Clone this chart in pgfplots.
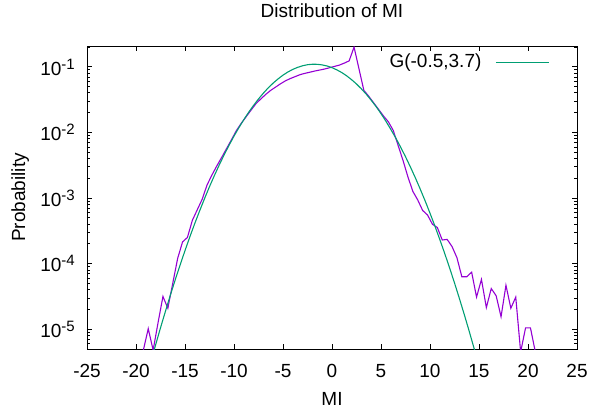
\documentclass[border=0pt]{standalone}
\usepackage{fontspec}
\setmainfont{Liberation Sans}
\usepackage{pgfplots}
\pgfplotsset{compat=1.18}
\definecolor{gpviolet}{HTML}{9400D3}
\definecolor{gpgreen}{HTML}{009E73}
\newcommand{\ex}[1]{10\raisebox{6bp}{\fontsize{15bp}{15bp}\selectfont #1}}
\begin{document}%
\fontsize{19bp}{22bp}\selectfont%
\begin{tikzpicture}
\useasboundingbox (-87bp,-59bp) rectangle (504bp,349bp);
\begin{axis}[
  at={(0bp,0bp)}, anchor=south west,
  scale only axis, width=490bp, height=303bp,
  xmin=-25, xmax=25, ymode=log, ymin=5e-6, ymax=0.207,
  xtick={-25,-20,...,25},
  xticklabels={-25,-20,-15,-10,-5,0,5,10,15,20,25},
  ytick={1e-5,1e-4,1e-3,1e-2,1e-1},
  yticklabels={\ex{-5},\ex{-4},\ex{-3},\ex{-2},\ex{-1}},
  minor ytick={6e-6,7e-6,8e-6,9e-6,
    2e-5,3e-5,4e-5,5e-5,6e-5,7e-5,8e-5,9e-5,
    2e-4,3e-4,4e-4,5e-4,6e-4,7e-4,8e-4,9e-4,
    2e-3,3e-3,4e-3,5e-3,6e-3,7e-3,8e-3,9e-3,
    2e-2,3e-2,4e-2,5e-2,6e-2,7e-2,8e-2,9e-2,2e-1},
  xtick pos=both, ytick pos=both, tick align=inside,
  major tick length=5.5bp, minor tick length=3bp,
  every tick/.style={black, line width=0.8bp},
  axis line style={line width=0.9bp},
  xticklabel style={inner sep=0pt, anchor=base, yshift=-28.7bp},
  yticklabel style={inner sep=0pt, anchor=base east, xshift=-12bp, yshift=-8.3bp},
  title={Distribution of MI},
  title style={inner sep=0pt, at={(axis description cs:0.5,1.0749)}, anchor=base},
  xlabel={MI},
  xlabel style={inner sep=0pt, at={(axis description cs:0.5,-0.1855)}, anchor=base},
  ylabel={Probability},
  ylabel style={inner sep=0pt, at={(axis description cs:-0.1265,0.5)}, anchor=base},
  legend plot pos=right,
  legend cell align=right,
  legend image code/.code={\draw[#1] (0bp,0bp) -- (53.3bp,0bp);},
  legend style={draw=none, fill=none, inner sep=0pt,
    at={(axis description cs:0.9449,0.9462)}, anchor=east,
    nodes={inner sep=0pt},
    /tikz/every odd column/.append style={column sep=14bp}},
]
% measured distribution
\addplot[gpviolet, line width=1.1bp, forget plot] table {
x y
-19.25 4.8e-6
-18.75 1.02e-5
-18.25 4.8e-6
-17.75 1.26e-5
-17.25 3.16e-5
-16.75 2.09e-5
-16.25 5.01e-5
-15.75 1.20e-4
-15.25 2.14e-4
-14.75 2.51e-4
-14.25 4.57e-4
-13.75 6.61e-4
-13.25 9.55e-4
-12.75 1.58e-3
-12.25 2.24e-3
-11.75 3.09e-3
-11.25 4.17e-3
-10.75 5.69e-3
-10.25 7.76e-3
-9.75 1.07e-2
-9.25 1.38e-2
-8.75 1.74e-2
-8.25 2.19e-2
-7.75 2.75e-2
-7.25 3.24e-2
-6.75 3.80e-2
-6.25 4.37e-2
-5.75 4.90e-2
-5.25 5.50e-2
-4.75 6.10e-2
-4.25 6.61e-2
-3.75 7.08e-2
-3.25 7.59e-2
-2.75 7.94e-2
-2.25 8.26e-2
-1.75 8.61e-2
-1.25 8.91e-2
-0.75 9.23e-2
-0.25 9.66e-2
0.25 0.1012
0.75 0.1059
1.25 0.1135
1.75 0.1230
2.25 0.1995
2.75 9.33e-2
3.25 4.37e-2
3.75 3.55e-2
4.25 2.82e-2
4.75 2.24e-2
5.25 1.78e-2
5.75 1.45e-2
6.25 1.07e-2
6.75 6.31e-3
7.25 3.72e-3
7.75 2.09e-3
8.25 1.26e-3
8.75 9.33e-4
9.25 6.46e-4
9.75 5.50e-4
10.25 3.98e-4
10.75 3.55e-4
11.25 2.29e-4
11.75 2.34e-4
12.25 1.82e-4
12.75 1.23e-4
13.25 6.31e-5
13.75 6.31e-5
14.25 7.41e-5
14.75 3.09e-5
15.25 5.75e-5
15.75 2.14e-5
16.25 4.17e-5
16.75 3.24e-5
17.25 1.55e-5
17.75 4.68e-5
18.25 2.09e-5
18.75 3.09e-5
19.25 4.5e-6
19.75 1.05e-5
20.25 1.05e-5
20.75 4.5e-6
};
% gaussian fit
\addplot[gpgreen, line width=1.1bp] table {
x y
-19 1.65e-6
-18.5 3.11e-6
-18 5.77e-6
-17.5 1.05e-5
-17 1.87e-5
-16.5 3.29e-5
-16 5.65e-5
-15.5 9.53e-5
-15 1.58e-4
-14.5 2.57e-4
-14 4.10e-4
-13.5 6.41e-4
-13 9.86e-4
-12.5 1.49e-3
-12 2.20e-3
-11.5 3.20e-3
-11 4.56e-3
-10.5 6.38e-3
-10 8.77e-3
-9.5 1.18e-2
-9 1.56e-2
-8.5 2.03e-2
-8 2.58e-2
-7.5 3.23e-2
-7 3.96e-2
-6.5 4.78e-2
-6 5.64e-2
-5.5 6.53e-2
-5 7.45e-2
-4.5 8.32e-2
-4 9.12e-2
-3.5 9.79e-2
-3 0.1035
-2.5 0.1074
-2 0.1091
-1.5 0.1089
-1 0.1067
-0.5 0.1026
0 9.68e-2
0.5 8.95e-2
1 8.15e-2
1.5 7.26e-2
2 6.35e-2
2.5 5.46e-2
3 4.60e-2
3.5 3.81e-2
4 3.09e-2
4.5 2.47e-2
5 1.93e-2
5.5 1.48e-2
6 1.11e-2
6.5 8.24e-3
7 5.97e-3
7.5 4.26e-3
8 2.97e-3
8.5 2.04e-3
9 1.37e-3
9.5 9.06e-4
10 5.87e-4
10.5 3.74e-4
11 2.33e-4
11.5 1.43e-4
12 8.61e-5
12.5 5.08e-5
13 2.94e-5
13.5 1.67e-5
14 9.33e-6
14.5 5.11e-6
15 2.74e-6
};
\addlegendentry{G(-0.5,3.7)}
\end{axis}
\end{tikzpicture}%
\end{document}
